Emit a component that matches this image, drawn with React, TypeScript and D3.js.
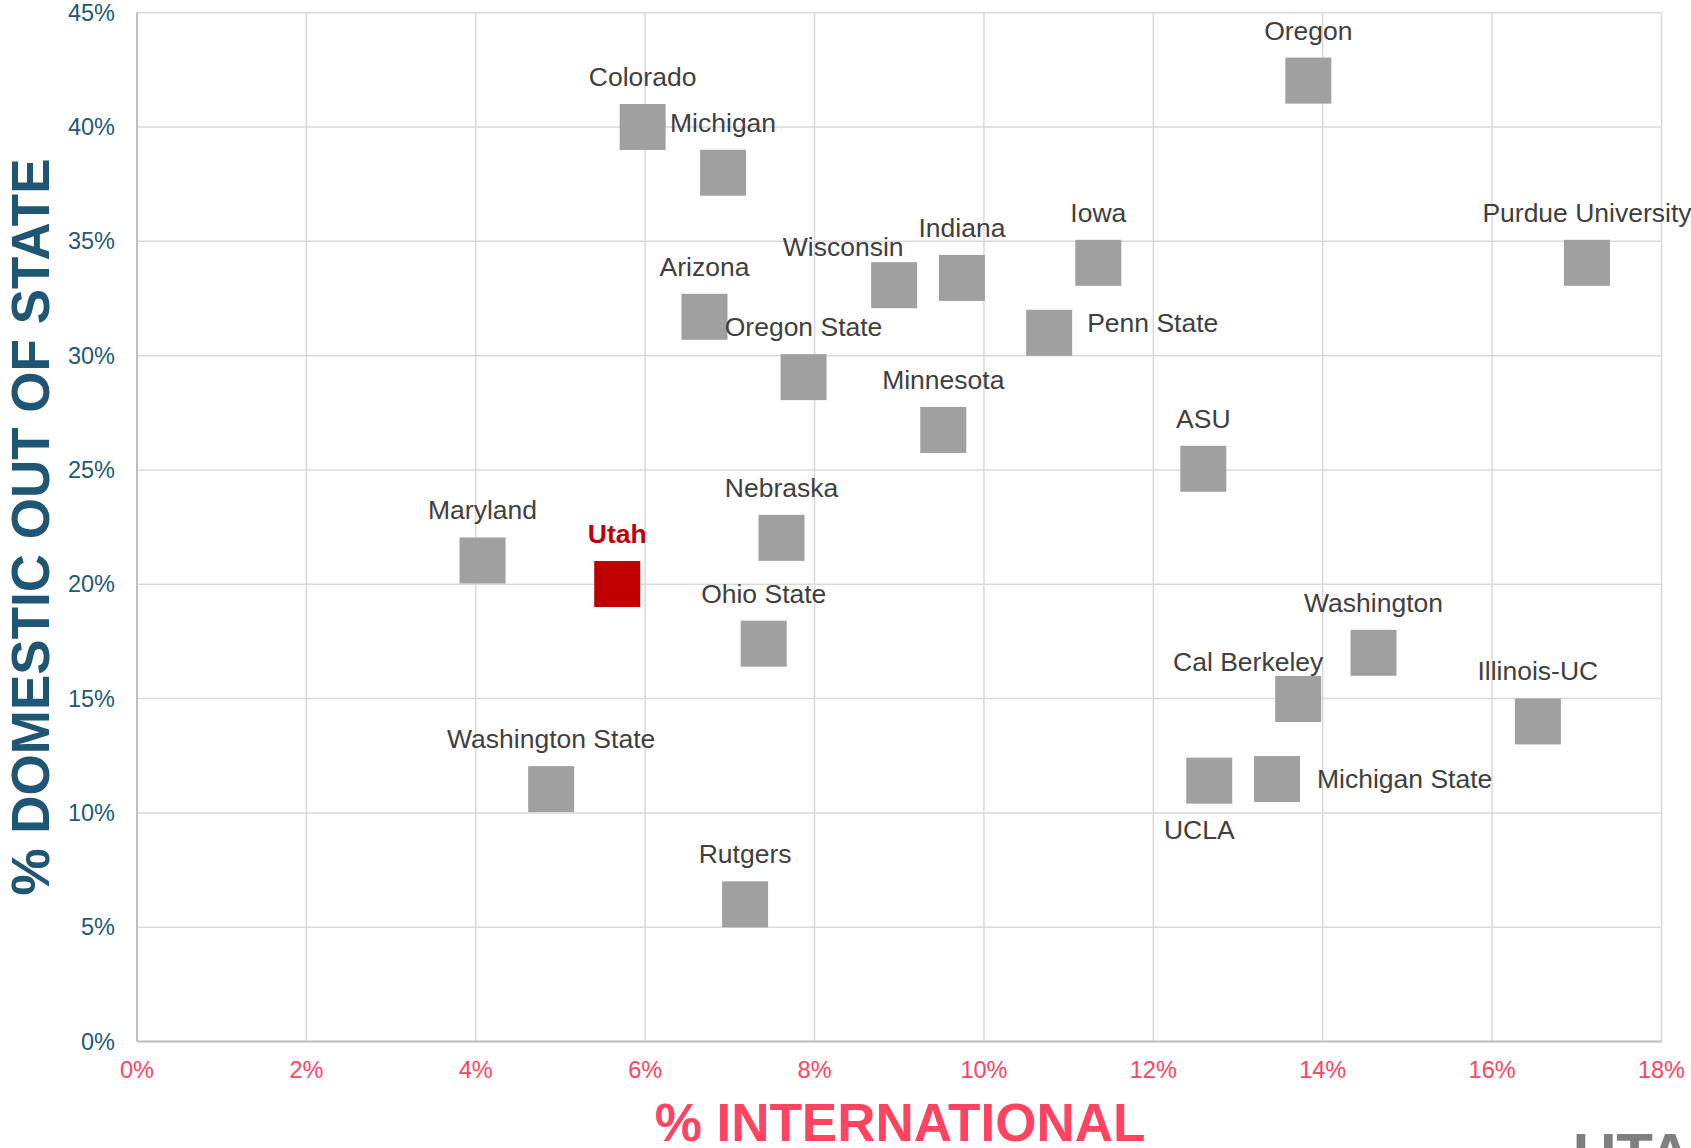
import * as d3 from "d3";

// data (fractions)
const schools = [
  "Oregon", "Colorado", "Michigan", "Wisconsin", "Indiana", "Iowa",
  "Purdue University", "Arizona", "Penn State", "Oregon State", "Minnesota",
  "ASU", "Maryland", "Utah", "Nebraska", "Ohio State", "Washington",
  "Cal Berkeley", "Illinois-UC", "UCLA", "Michigan State",
  "Washington State", "Rutgers",
];
const international = [
  0.1383, 0.0597, 0.0692, 0.0894, 0.0974, 0.1135, 0.1712, 0.0670, 0.1077,
  0.0787, 0.0952, 0.1259, 0.0408, 0.0567, 0.0761, 0.0740, 0.1460, 0.1371,
  0.1654, 0.1266, 0.1346, 0.0489, 0.0718,
];
const domestic = [
  0.4203, 0.4000, 0.3800, 0.3308, 0.3340, 0.3406, 0.3406, 0.3170, 0.3100,
  0.2906, 0.2675, 0.2505, 0.2104, 0.2001, 0.2203, 0.1740, 0.1700, 0.1498,
  0.1400, 0.1141, 0.1148, 0.1104, 0.0600,
];
const highlight = "Utah";

const xTicks = d3.range(0, 0.1801, 0.02);
const yTicks = d3.range(0, 0.4501, 0.05);

// label placement (offsets from marker centre, in px)
const labelSpot: Record<string, [number, number, string]> = {
  "Penn State": [38, -1, "start"],
  "Michigan State": [40, 9, "start"],
  UCLA: [-10, 58, "middle"],
  "Cal Berkeley": [-50, -28, "middle"],
  Wisconsin: [-51, -29, "middle"],
};

const W = 1691;
const H = 1148;
const font = "'Liberation Sans', Arial, sans-serif";

export default function App() {
  const x = d3.scaleLinear().domain([0, 0.18]).range([137, 1661.5]);
  const y = d3.scaleLinear().domain([0, 0.45]).range([1041.5, 12.7]);
  const pct = d3.format(".0%");
  const size = 46;

  return (
    <svg
      width={W}
      height={H}
      style={{ position: "absolute", left: 0, top: 0, background: "#fff" }}
      fontFamily={font}
    >
      <g>
        {xTicks.map((t) => (
          <line key={"gx" + t} x1={x(t)} x2={x(t)} y1={y(0)} y2={y(0.45)}
            stroke="#d9d9d9" strokeWidth={1.5} />
        ))}
        {yTicks.map((t) => (
          <line key={"gy" + t} x1={x(0)} x2={x(0.18)} y1={y(t)} y2={y(t)}
            stroke="#d9d9d9" strokeWidth={1.5} />
        ))}
        <line x1={x(0)} x2={x(0)} y1={y(0)} y2={y(0.45)} stroke="#bfbfbf" strokeWidth={2} />
        <line x1={x(0)} x2={x(0.18)} y1={y(0)} y2={y(0)} stroke="#bfbfbf" strokeWidth={2} />
      </g>
      <g fontSize={23.5}>
        {yTicks.map((t) => (
          <text key={"ty" + t} x={x(0) - 22} y={y(t) + 8} textAnchor="end" fill="#215a73">
            {pct(t)}
          </text>
        ))}
        {xTicks.map((t) => (
          <text key={"tx" + t} x={x(t)} y={1078} textAnchor="middle" fill="#ff4361">
            {pct(t)}
          </text>
        ))}
      </g>
      <g>
        {schools.map((s, i) => {
          const cx = x(international[i]);
          const cy = y(domestic[i]);
          return (
            <rect key={s} x={cx - size / 2} y={cy - size / 2} width={size} height={size}
              fill={s === highlight ? "#c00000" : "#a0a0a0"} />
          );
        })}
      </g>
      <g fontSize={26.5}>
        {schools.map((s, i) => {
          const cx = x(international[i]);
          const cy = y(domestic[i]);
          const [dx, dy, anchor] = labelSpot[s] || [0, -41, "middle"];
          const hi = s === highlight;
          return (
            <text key={"l" + s} x={cx + dx} y={cy + dy} textAnchor={anchor}
              fill={hi ? "#c00000" : "#404040"} fontWeight={hi ? "bold" : "normal"}>
              {s}
            </text>
          );
        })}
      </g>
      <text transform="translate(49,527) rotate(-90)" textAnchor="middle"
        fontSize={53} fontWeight="bold" fill="#1f5673">
        % DOMESTIC OUT OF STATE
      </text>
      <text x={900} y={1141} textAnchor="middle" fontSize={53} fontWeight="bold" fill="#ff4361">
        % INTERNATIONAL
      </text>
      <text x={1573} y={1175} fontSize={60} fontWeight="bold" fill="#7f7f7f">
        UTAH
      </text>
    </svg>
  );
}
